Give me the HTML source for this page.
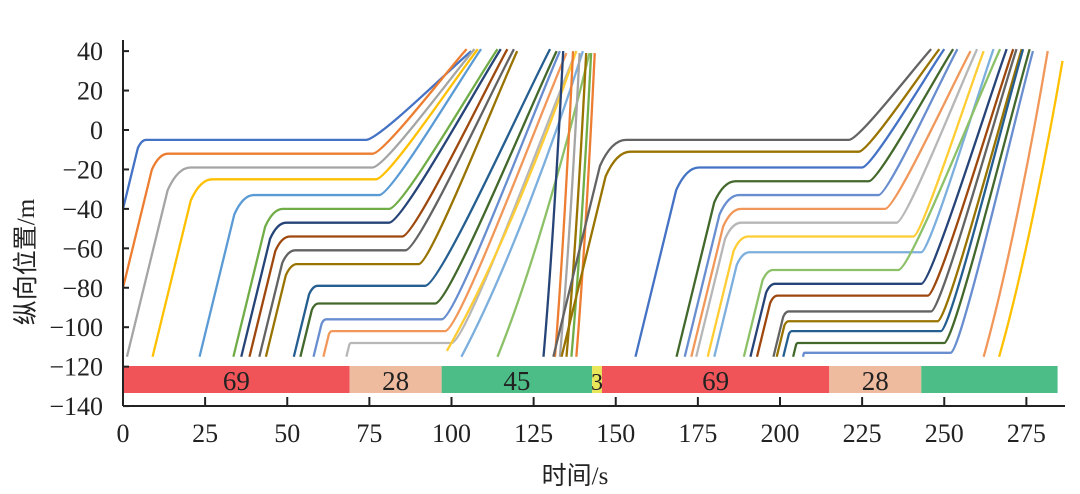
<!DOCTYPE html>
<html><head><meta charset="utf-8"><style>
html,body{margin:0;padding:0;background:#fff;}
svg{display:block;font-family:"Liberation Serif","Noto Serif CJK SC",serif;}
</style></head><body>
<svg id="chart" width="1080" height="494" viewBox="0 0 1080 494" xmlns="http://www.w3.org/2000/svg">
<g id="bars"></g>
<g id="lines"></g>
<g id="axes"></g>
<text transform="translate(34,262) rotate(-90)" text-anchor="middle" font-size="25" font-family="Liberation Serif, Noto Sans CJK SC, sans-serif" fill="#222">纵向位置/m</text>
<text x="575" y="484" text-anchor="middle" font-size="25" font-family="Liberation Serif, Noto Sans CJK SC, sans-serif" fill="#222">时间/s</text>
</svg>
<script>
// ---- data ----
const xTicks = [0,25,50,75,100,125,150,175,200,225,250,275];
const yTicks = [40,20,0,-20,-40,-60,-80,-100,-120,-140];
const phaseStart = [0,69,97,142.8,145.8,215,243];
const phaseEnd   = [69,97,142.8,145.8,215,243,284.5];
const phaseLabel = ["69","28","45","3","69","28",""];
const phaseColor = ["#f05458","#efbb9f","#4cbd87","#e9e65a","#f05458","#efbb9f","#4cbd87"];
// vehicles: start time/value, stop position (null = no stop), release time, exit time
const startT  = [0,0,1.2,9,23.3,33.6,36,38.5,41.5,43.5,52,54,58,61,68,98.6,103,114,128,131.5,133,135,136.5,138,
                 131,133.5,156,168.5,171,173,174.5,178,180,189,191,193,198,199,201,204,207,262,266.7];
const startV  = [-40,-80,-115,-115,-115,-115,-115,-115,-115,-115,-115,-115,-115,-115,-115,-112,-115,-115,-115,-115,-115,-115,-115,-115,
                 -115,-115,-115,-115,-115,-115,-115,-115,-115,-115,-115,-115,-115,-115,-115,-115,-115,-115,-115];
const stopV   = [-5,-12,-19,-25,-33,-40,-47,-54,-61,-68,-79,-88,-96,-102,-108,null,null,null,null,null,null,null,null,null,
                 -5,-11,-19,-26,-33,-40,-47,-54,-62,-71,-78,-84,-92,-97,-102,-108,-113,null,null];
const releaseT= [74,76,76,77,78,81,81,85,86,90,92,95,97,98,100,0,0,0,0,0,0,0,0,0,
                 221,224,225,227,230,232,235.5,240.6,243,236,243,245,246,248,249,250,252,0,0];
const exitT   = [106,104.6,107,108,109,114,115,117,119,120,130,132,133,135,138,138,140,142,134,137,139,141,142.5,143.6,
                 246,248.5,250,252.7,254,258,260,262,265,267,269,271,272,273.6,274,276,277,281.5,286];
const exitV   = [40,41,41,41,41,41,41,41,41,40,41,40,40,39,40,40,40,39,40,40,39,39,39,39,
                 41,41,41,41,41,40,41,40,41,41,41,41,41,41,41,41,40,40,35];
const palette = ["#4472c4","#ed7d31","#a5a5a5","#ffc000","#5b9bd5","#70ad47","#264478","#9e480e","#636363","#997300",
                 "#255e91","#43682b","#698ed0","#f1975a","#b7b7b7","#ffcd33","#7cafdd","#8cc168"];
const lineColor = [0,1,2,3,4,5,6,7,8,9,10,11,12,13,14,15,16,17,6,1,2,9,5,1,
                   8,9,0,11,12,13,14,15,16,17,6,7,8,9,10,11,12,13,3];

// ---- scales ----
const X0=123, XS=3.285, Y0=130, YS=1.972;
const x = t => X0 + t*XS;
const y = v => Y0 - v*YS;
const NS="http://www.w3.org/2000/svg";
function mk(tag, attrs, parent){const e=document.createElementNS(NS,tag);for(const k in attrs)e.setAttribute(k,attrs[k]);parent.appendChild(e);return e;}

// bars
const gb=document.getElementById('bars');
for(let i=0;i<phaseStart.length;i++){
  const r=mk('rect',{x:x(phaseStart[i]),y:366,width:x(phaseEnd[i])-x(phaseStart[i]),height:27,fill:phaseColor[i]},gb);
  
  
  if(phaseLabel[i]){
    const tx=mk('text',{x:(x(phaseStart[i])+x(phaseEnd[i]))/2,y:390,'text-anchor':'middle','font-size':phaseLabel[i]==="3"?24:27,fill:'#222'},gb);
    tx.textContent=phaseLabel[i];
    
    
  }
}

// lines
const gl=document.getElementById('lines');
for(let i=0;i<startT.length;i++){
  const t0=startT[i], v0=startV[i], te=exitT[i], ve=exitV[i];
  let d;
  if(stopV[i]===null){
    const D=te-t0;
    d=`M${x(t0)},${y(v0)} C${x(t0+D*0.4)},${y(v0+(ve-v0)*0.3)} ${x(te-D*0.2)},${y(ve-(ve-v0)*0.25)} ${x(te)},${y(ve)}`;
  } else {
    const p=stopV[i], speed=6.2;
    const ta=t0+(p-v0)/speed;
    const dur=ta-t0;
    const tr=releaseT[i];
    const D=te-tr;
    d=`M${x(t0)},${y(v0)} L${x(t0+dur*0.8)},${y(v0+(p-v0)*0.88)} Q${x(ta)},${y(p)} ${x(ta+dur*0.25)},${y(p)} L${x(tr)},${y(p)} C${x(tr+D*0.12)},${y(p)} ${x(te-D*0.2)},${y(ve-(ve-p)*0.2)} ${x(te)},${y(ve)}`;
  }
  const pth=mk('path',{d:d,fill:'none',stroke:palette[lineColor[i]],'stroke-width':2.3,'stroke-linejoin':'round'},gl);
  
  
}

// axes
const ga=document.getElementById('axes');
const ya=mk('line',{x1:X0,y1:40,x2:X0,y2:406,stroke:'#222','stroke-width':2},ga);


const xa=mk('line',{x1:X0,y1:406,x2:1065,y2:406,stroke:'#222','stroke-width':2},ga);


for(const v of yTicks){
  const tk=mk('line',{x1:X0,y1:y(v),x2:X0+6,y2:y(v),stroke:'#222','stroke-width':2},ga);
  
  
  const lb=mk('text',{x:103,y:y(v)+9,'text-anchor':'end','font-size':26,fill:'#222'},ga);
  lb.textContent=(v<0?'\u2212'+(-v):String(v));
  
  
}
for(const t of xTicks){
  if(t>0){
    const tk=mk('line',{x1:x(t),y1:397,x2:x(t),y2:406,stroke:'#222','stroke-width':2},ga);
    
    
  }
  const lb=mk('text',{x:x(t),y:442,'text-anchor':'middle','font-size':26,fill:'#222'},ga);
  lb.textContent=String(t);
  
  
}
</script>
</body></html>
